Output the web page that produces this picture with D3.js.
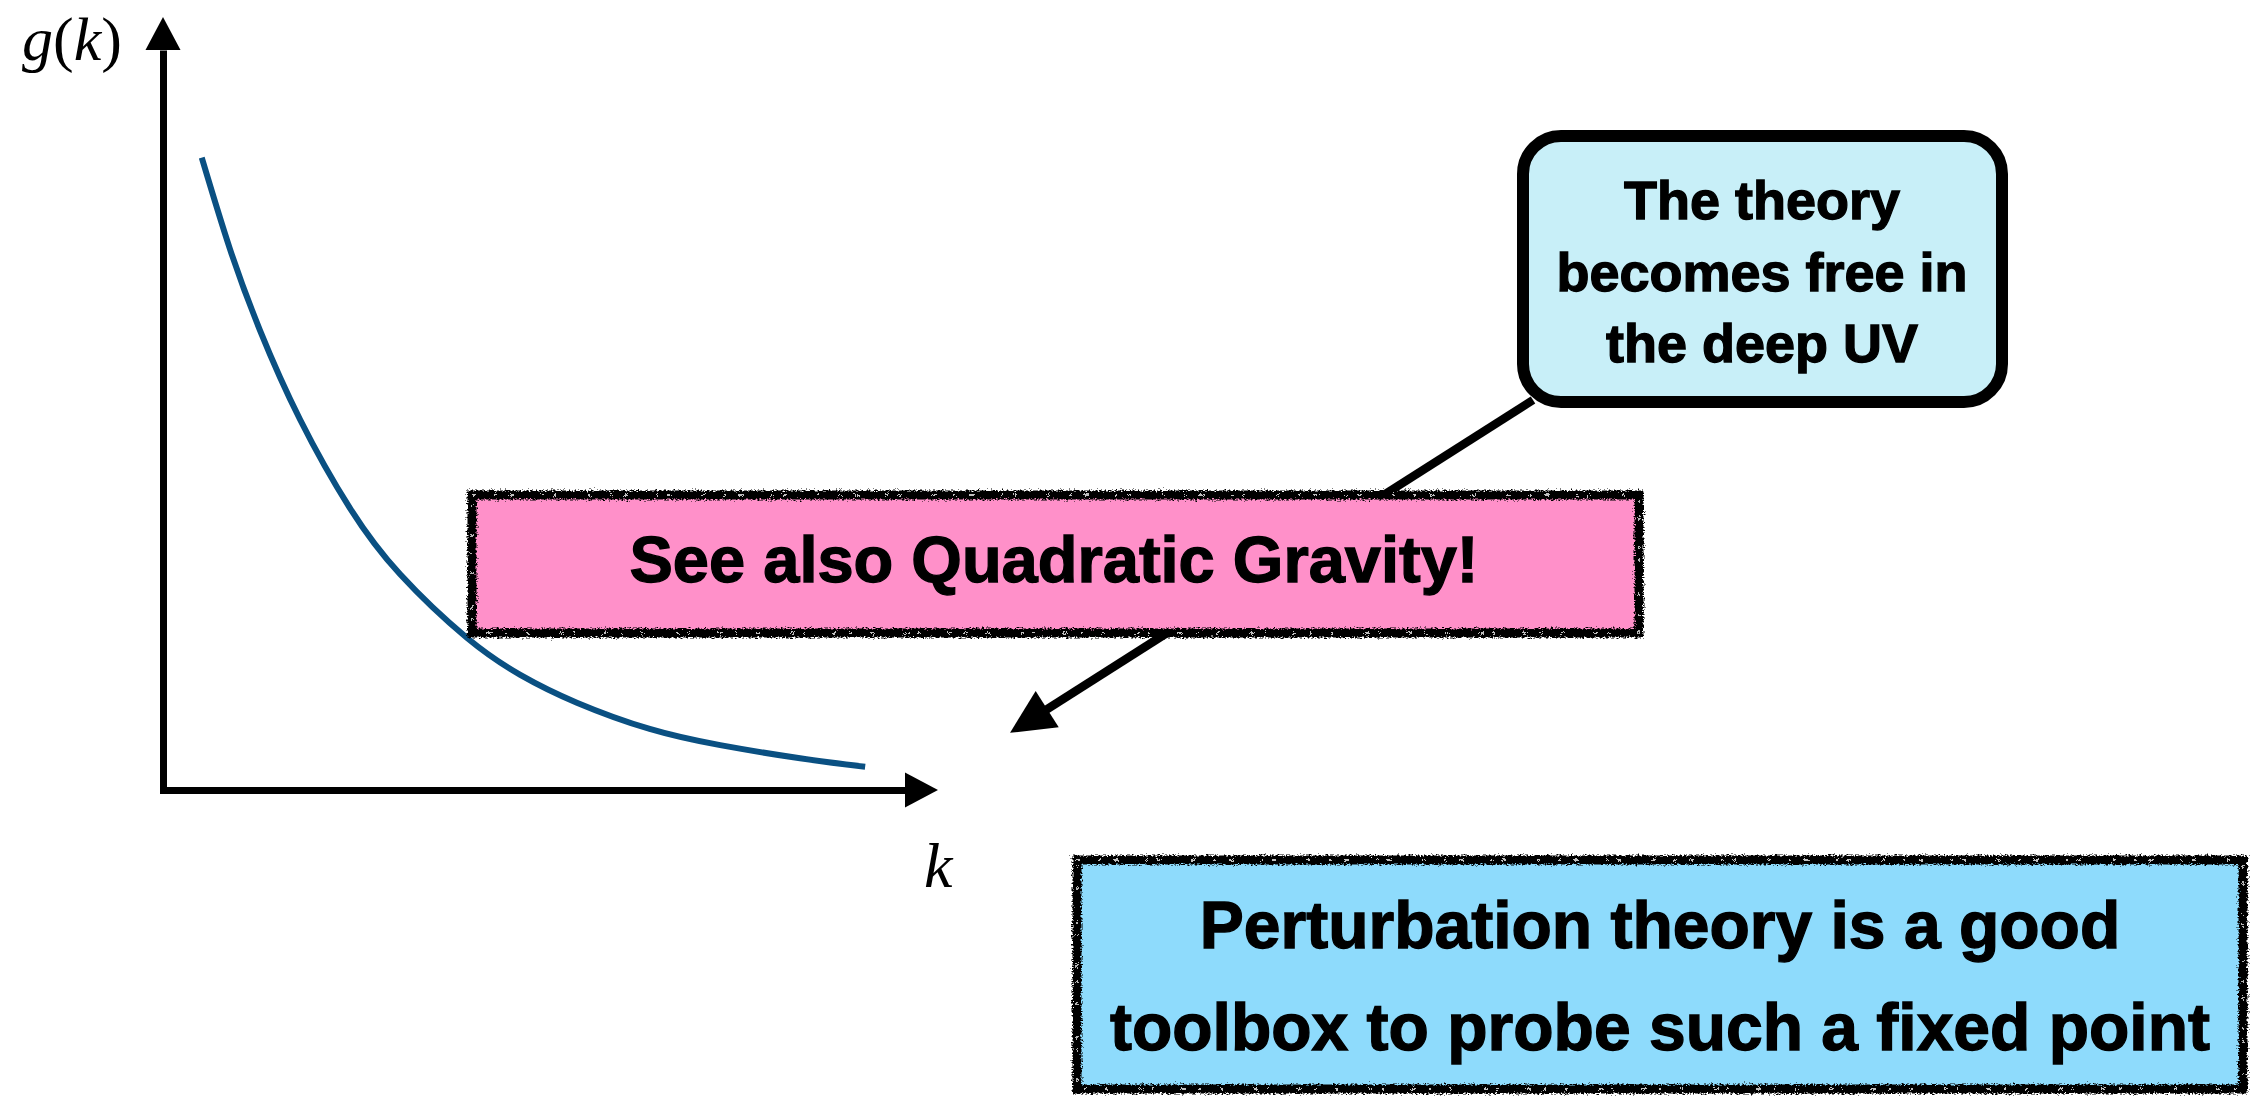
<!DOCTYPE html>
<html lang="en">
<head>
    <meta charset="UTF-8">
    <title>Asymptotic freedom sketch</title>
    <script src="https://d3js.org/d3.v7.min.js"></script>
    <style>
        html, body { margin: 0; padding: 0; background: #fff; }
        svg { display: block; }
    </style>
</head>
<body>
    <div id="my_dataviz"></div>

    <script>
        // Data (k and g(k) in axis units 0..1)
        const kValues = [0.050, 0.086, 0.125, 0.177, 0.241, 0.306, 0.392, 0.461, 0.534, 0.628, 0.719, 0.822, 0.906];
        const gValues = [0.818, 0.701, 0.595, 0.479, 0.365, 0.279, 0.197, 0.149, 0.113, 0.079, 0.058, 0.041, 0.030];

        const axisLabels = { y: "g", x: "k" };
        const calloutLines = ["The theory", "becomes free in", "the deep UV"];
        const pinkLines = ["See also Quadratic Gravity!"];
        const blueLines = ["Perturbation theory is a good", "toolbox to probe such a fixed point"];
        // where the callout arrow points to, in axis units
        const arrowTarget = { k: 1.093, g: 0.074 };

        const width = 2257, height = 1096;

        const svg = d3.select("#my_dataviz")
            .append("svg")
            .attr("width", width)
            .attr("height", height);

        // filters for the rough, chalky borders
        const defs = svg.append("defs");
        function roughFilter(id, freq, scale, seed) {
            const f = defs.append("filter")
                .attr("id", id)
                .attr("x", "-5%").attr("y", "-10%")
                .attr("width", "110%").attr("height", "120%");
            f.append("feTurbulence")
                .attr("type", "fractalNoise")
                .attr("baseFrequency", freq)
                .attr("numOctaves", 3)
                .attr("seed", seed)
                .attr("result", "noise");
            f.append("feDisplacementMap")
                .attr("in", "SourceGraphic")
                .attr("in2", "noise")
                .attr("scale", scale)
                .attr("xChannelSelector", "R")
                .attr("yChannelSelector", "G");
        }
        roughFilter("rough", "0.45 0.7", 7, 3);
        roughFilter("rough2", "0.6 0.9", 6, 11);

        // scales
        const x = d3.scaleLinear().domain([0, 1]).range([163, 938]);
        const y = d3.scaleLinear().domain([0, 1]).range([790, 17]);

        // axes (no ticks, thick domain lines)
        const head = 33;
        svg.append("g")
            .attr("transform", `translate(0,${y(0)})`)
            .call(d3.axisBottom(x.copy().range([x(0) - 3.5, x(1) - head])).tickValues([]).tickSizeOuter(0));
        svg.append("g")
            .attr("transform", `translate(${x(0)},0)`)
            .call(d3.axisLeft(y.copy().range([y(0) + 3.5, y(1) + head])).tickValues([]).tickSizeOuter(0));
        svg.selectAll(".domain")
            .attr("stroke", "#000")
            .attr("stroke-width", 7);

        // arrow heads
        svg.append("path")
            .attr("d", `M${x(1)},${y(0)} L${x(1) - head},${y(0) - 17.5} L${x(1) - head},${y(0) + 17.5} Z`)
            .attr("fill", "#000");
        svg.append("path")
            .attr("d", `M${x(0)},${y(1)} L${x(0) - 17.5},${y(1) + head} L${x(0) + 17.5},${y(1) + head} Z`)
            .attr("fill", "#000");

        // axis labels
        const gl = svg.append("text")
            .attr("x", 22)
            .attr("y", 60)
            .attr("font-family", "'Liberation Serif', 'Times New Roman', serif")
            .attr("font-size", 62);
        gl.append("tspan").attr("font-style", "italic").text(axisLabels.y);
        gl.append("tspan").text("(");
        gl.append("tspan").attr("font-style", "italic").text(axisLabels.x);
        gl.append("tspan").text(")");

        svg.append("text")
            .attr("x", 924)
            .attr("y", 887)
            .attr("font-family", "'Liberation Serif', 'Times New Roman', serif")
            .attr("font-style", "italic")
            .attr("font-size", 64)
            .text(axisLabels.x);

        // the running coupling
        const curve = kValues.map((k, i) => ({ k: k, g: gValues[i] }));
        svg.append("path")
            .datum(curve)
            .attr("fill", "none")
            .attr("stroke", "#0a5082")
            .attr("stroke-width", 6)
            .attr("d", d3.line()
                .x(d => x(d.k))
                .y(d => y(d.g))
                .curve(d3.curveNatural));

        // callout pointer line + head
        const from = [1533, 400];
        const tip = [x(arrowTarget.k), y(arrowTarget.g)];
        const ang = Math.atan2(tip[1] - from[1], tip[0] - from[0]);
        const hl = 44, hw = 21.5;
        const bx = tip[0] - hl * Math.cos(ang), by = tip[1] - hl * Math.sin(ang);
        svg.append("line")
            .attr("x1", from[0]).attr("y1", from[1])
            .attr("x2", bx + 6 * Math.cos(ang)).attr("y2", by + 6 * Math.sin(ang))
            .attr("stroke", "#000")
            .attr("stroke-width", 8.5);
        svg.append("path")
            .attr("d", `M${tip[0]},${tip[1]}` +
                ` L${bx - hw * Math.sin(ang)},${by + hw * Math.cos(ang)}` +
                ` L${bx + hw * Math.sin(ang)},${by - hw * Math.cos(ang)} Z`)
            .attr("fill", "#000");

        // callout bubble
        svg.append("rect")
            .attr("x", 1523).attr("y", 136)
            .attr("width", 479).attr("height", 266)
            .attr("rx", 38).attr("ry", 38)
            .attr("fill", "#c8eff8")
            .attr("stroke", "#000")
            .attr("stroke-width", 12);

        function addLines(lines, cx, y0, dy, size) {
            svg.append("g")
                .selectAll("text")
                .data(lines)
                .enter()
                .append("text")
                .attr("x", cx)
                .attr("y", (d, i) => y0 + i * dy)
                .attr("text-anchor", "middle")
                .attr("font-family", "'Liberation Sans', Arial, Helvetica, sans-serif")
                .attr("font-weight", "bold")
                .attr("font-size", size)
                .attr("fill", "#000")
                .attr("stroke", "#000")
                .attr("stroke-width", 1.3)
                .text(d => d);
        }

        addLines(calloutLines, 1762, 219, 71.5, 54);

        // sketchy boxes
        function roughBox(bx, by, bw, bh, fill) {
            svg.append("rect")
                .attr("x", bx).attr("y", by)
                .attr("width", bw).attr("height", bh)
                .attr("fill", fill);
            svg.append("rect")
                .attr("x", bx).attr("y", by)
                .attr("width", bw).attr("height", bh)
                .attr("fill", "none")
                .attr("stroke", "#000")
                .attr("stroke-width", 9)
                .attr("filter", "url(#rough)");
            svg.append("rect")
                .attr("x", bx).attr("y", by)
                .attr("width", bw).attr("height", bh)
                .attr("fill", "none")
                .attr("stroke", "#000")
                .attr("stroke-width", 6)
                .attr("filter", "url(#rough2)");
            // white specks in the chalk line
            svg.append("rect")
                .attr("x", bx).attr("y", by)
                .attr("width", bw).attr("height", bh)
                .attr("fill", "none")
                .attr("stroke", "#fff")
                .attr("stroke-width", 1.4)
                .attr("stroke-dasharray", "3 19 2 13 5 27 2 9 4 31")
                .attr("filter", "url(#rough2)");
        }

        roughBox(472, 495, 1167, 138, "#ff90c9");
        addLines(pinkLines, 1054, 582, 0, 65);

        roughBox(1077, 860, 1166, 229, "#8edbfc");
        addLines(blueLines, 1660, 948, 102, 66);
    </script>
</body>
</html>
